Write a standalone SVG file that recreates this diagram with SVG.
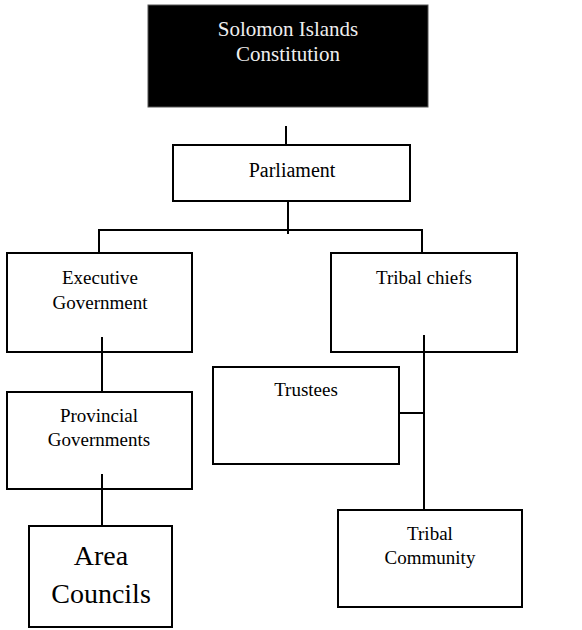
<svg xmlns="http://www.w3.org/2000/svg" width="582" height="630" viewBox="0 0 582 630">
<style>
.box{fill:#fff;stroke:#000;stroke-width:2}
text{font-family:'Liberation Serif','Times New Roman',Times,serif;font-size:19px;fill:#000;text-anchor:middle}
.c line{stroke:#000;stroke-width:2}
</style>
<rect width="582" height="630" fill="#fff"/>
<g id="constitution">
<rect x="148" y="5" width="280" height="102" fill="#000" stroke="#555" stroke-width="1"/>
<text x="288" y="36" font-size="21" fill="#eee" style="fill:#eee;font-size:21px">Solomon Islands</text>
<text x="288" y="61" style="fill:#eee;font-size:21px">Constitution</text>
</g>
<g id="parliament">
<rect class="box" x="173" y="145" width="237" height="56"/>
<text x="292" y="177" style="font-size:20px">Parliament</text>
</g>
<g id="executive">
<rect class="box" x="7" y="253" width="185" height="99"/>
<text x="100" y="284">Executive</text>
<text x="100" y="309">Government</text>
</g>
<g id="tribal-chiefs">
<rect class="box" x="331" y="253" width="186" height="99"/>
<text x="424" y="284">Tribal chiefs</text>
</g>
<g id="provincial">
<rect class="box" x="7" y="392" width="185" height="97"/>
<text x="99" y="422">Provincial</text>
<text x="99" y="446">Governments</text>
</g>
<g id="trustees">
<rect class="box" x="213" y="367" width="186" height="97"/>
<text x="306" y="396">Trustees</text>
</g>
<g id="area-councils">
<rect class="box" x="29" y="526" width="143" height="101"/>
<text x="101" y="565" style="font-size:28px">Area</text>
<text x="101" y="603" style="font-size:28px">Councils</text>
</g>
<g id="tribal-community">
<rect class="box" x="338" y="510" width="184" height="97"/>
<text x="430" y="540">Tribal</text>
<text x="430" y="564">Community</text>
</g>
<g class="c" id="connectors">
<line x1="286" y1="126" x2="286" y2="145"/>
<line x1="288" y1="201" x2="288" y2="234"/>
<line x1="99" y1="230" x2="422" y2="230"/>
<line x1="99" y1="229" x2="99" y2="253"/>
<line x1="422" y1="229" x2="422" y2="253"/>
<line x1="102" y1="337" x2="102" y2="393"/>
<line x1="102" y1="474" x2="102" y2="526"/>
<line x1="424" y1="335" x2="424" y2="510"/>
<line x1="399" y1="413" x2="424" y2="413"/>
</g>
</svg>
